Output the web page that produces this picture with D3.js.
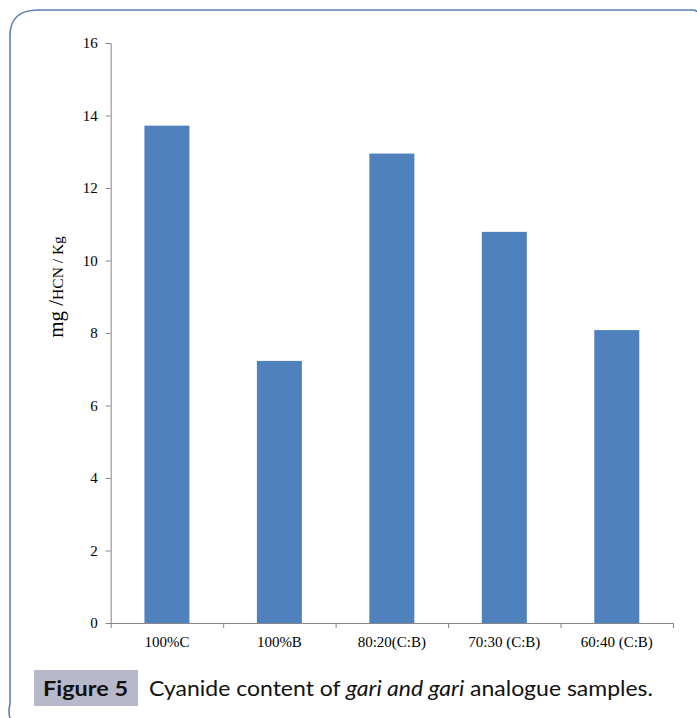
<!DOCTYPE html>
<html>
<head>
<meta charset="utf-8">
<script src="https://cdn.jsdelivr.net/npm/d3@7"></script>
<style>
  html, body { margin: 0; padding: 0; background: #ffffff; }
  svg { display: block; }
</style>
</head>
<body>
<div id="chart"></div>
<script>
// Cyanide content (mg HCN / kg) per sample
const categories = ["100%C", "100%B", "80:20(C:B)", "70:30 (C:B)", "60:40 (C:B)"];
const values = [13.72, 7.23, 12.95, 10.79, 8.08];
const yTicks = [0, 2, 4, 6, 8, 10, 12, 14, 16];

const W = 697, H = 718;
const svg = d3.select("#chart").append("svg")
  .attr("width", W).attr("height", H);

// Panel frame: rounded top-left corner, open on the right
svg.append("path")
  .attr("d", "M 10 718 Q 8 712 10 704 L 10 36 Q 10 10 38 10 L 693 10 Q 696 10 697 12")
  .attr("fill", "none")
  .attr("stroke", "#5b80b3")
  .attr("stroke-width", 1.6);

const plot = { left: 110.7, right: 673, top: 43, bottom: 623 };

const x = d3.scaleBand()
  .domain(categories)
  .range([plot.left, plot.right])
  .paddingInner(0.6)
  .paddingOuter(0.3);

const y = d3.scaleLinear()
  .domain([0, 16])
  .range([plot.bottom, plot.top]);

const axisColor = "#868686";
const tickFont = "'Liberation Serif', 'Times New Roman', serif";

// Bars
svg.append("g").selectAll("rect")
  .data(values)
  .join("rect")
  .attr("x", (d, i) => x(categories[i]))
  .attr("y", d => y(d))
  .attr("width", x.bandwidth())
  .attr("height", d => y(0) - y(d))
  .attr("fill", "#4f81bd");

// Y axis
const yAxis = svg.append("g")
  .attr("transform", `translate(${plot.left},0)`)
  .call(d3.axisLeft(y).tickValues(yTicks).tickSize(5).tickPadding(8).tickFormat(d3.format("d")));
yAxis.select(".domain").attr("stroke", axisColor);
yAxis.selectAll(".tick line").attr("stroke", axisColor);
yAxis.selectAll(".tick text")
  .attr("fill", "#000")
  .style("font-family", tickFont)
  .style("font-size", "15px");

// X axis with ticks at category boundaries
const step = x.step();
const boundaries = d3.range(categories.length + 1).map(i => plot.left + i * step);
const xAxisG = svg.append("g");
xAxisG.append("line")
  .attr("x1", plot.left).attr("x2", plot.right)
  .attr("y1", plot.bottom + 0.5).attr("y2", plot.bottom + 0.5)
  .attr("stroke", axisColor);
xAxisG.selectAll("line.tk")
  .data(boundaries)
  .join("line")
  .attr("class", "tk")
  .attr("x1", d => d + 0.5).attr("x2", d => d + 0.5)
  .attr("y1", plot.bottom).attr("y2", plot.bottom + 5)
  .attr("stroke", axisColor);
xAxisG.selectAll("text")
  .data(categories)
  .join("text")
  .attr("x", d => x(d) + x.bandwidth() / 2)
  .attr("y", plot.bottom + 24)
  .attr("text-anchor", "middle")
  .style("font-family", tickFont)
  .style("font-size", "15px")
  .attr("fill", "#000")
  .text(d => d);

// Y axis title
const yTitle = svg.append("text")
  .attr("transform", "translate(63,287) rotate(-90)")
  .attr("text-anchor", "middle")
  .style("font-family", tickFont)
  .attr("fill", "#000");
yTitle.append("tspan").style("font-size", "21px").text("mg /");
yTitle.append("tspan").style("font-size", "15.5px").text("HCN / Kg");

// Figure caption
svg.append("rect")
  .attr("x", 34).attr("y", 670)
  .attr("width", 104).attr("height", 36)
  .attr("fill", "#b7b9cb");
const capFont = "Lato, 'Open Sans', sans-serif";
svg.append("text")
  .attr("x", 43).attr("y", 696)
  .style("font-family", capFont)
  .style("font-size", "21px")
  .style("font-weight", "bold")
  .attr("fill", "#111")
  .attr("textLength", 85)
  .attr("lengthAdjust", "spacingAndGlyphs")
  .text("Figure 5");
const cap = svg.append("text")
  .attr("x", 149).attr("y", 696)
  .style("font-family", capFont)
  .style("font-size", "21px")
  .attr("fill", "#111")
  .attr("textLength", 504)
  .attr("lengthAdjust", "spacingAndGlyphs");
cap.append("tspan").text("Cyanide content of ");
cap.append("tspan").style("font-style", "italic").text("gari and gari");
cap.append("tspan").text(" analogue samples.");
</script>
</body>
</html>
